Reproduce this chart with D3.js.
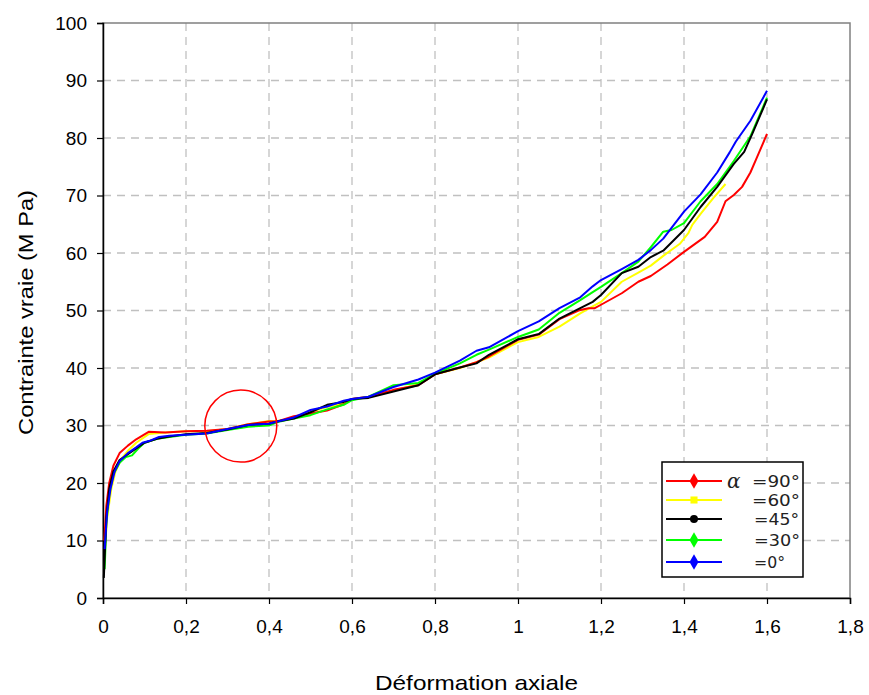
<!DOCTYPE html>
<html><head><meta charset="utf-8">
<script src="https://cdn.jsdelivr.net/npm/d3@7"></script>
<style>body{margin:0;background:#fff}svg{display:block;font-family:"Liberation Sans",Arial,sans-serif}</style>
</head><body><svg id="c" width="869" height="695"></svg>
<script>
// ---- data ----
const strain90 = [0.003,0.008,0.015,0.025,0.04,0.06,0.08,0.11,0.15,0.2,0.25,0.3,0.35,0.4,0.42,0.46,0.5,0.54,0.58,0.6,0.64,0.7,0.76,0.8,0.86,0.9,0.93,1.0,1.05,1.1,1.15,1.17,1.185,1.2,1.25,1.29,1.32,1.36,1.4,1.45,1.48,1.5,1.52,1.54,1.56,1.575,1.6];
const stress90 = [10,16,20,23,25.2,26.5,27.6,28.9,28.8,29.0,29.1,29.4,30.2,30.7,30.7,31.6,32.1,32.6,33.7,34.6,35.0,36.2,37.0,38.9,40.1,41.0,42.0,44.9,45.8,48.5,50.1,50.4,50.4,51.0,53.0,55.0,56.0,58.0,60.2,62.8,65.4,69.0,70.1,71.5,74.0,76.5,80.7];
const strain60 = [0.005,0.01,0.02,0.03,0.045,0.06,0.08,0.11,0.15,0.2,0.25,0.3,0.35,0.4,0.42,0.46,0.5,0.54,0.58,0.6,0.64,0.7,0.76,0.8,0.86,0.9,0.93,1.0,1.05,1.1,1.15,1.18,1.2,1.25,1.29,1.32,1.35,1.39,1.41,1.42,1.44,1.47,1.5];
const stress60 = [9,14,19,22,24.3,25.6,27,28.5,28.8,29.0,29.0,29.4,30.2,30.8,30.8,31.3,32.4,33.2,33.8,34.6,35.0,36.1,37.2,38.9,40.0,41.0,41.8,44.5,45.4,47.2,49.5,50.7,51.5,55.0,56.6,57.8,59.5,61.6,63.4,64.9,66.8,69.5,72.0];
const strain45 = [0.002,0.008,0.015,0.025,0.04,0.06,0.08,0.1,0.13,0.16,0.2,0.25,0.3,0.35,0.4,0.42,0.46,0.5,0.54,0.58,0.6,0.64,0.7,0.76,0.8,0.86,0.9,0.93,1.0,1.05,1.1,1.15,1.18,1.2,1.25,1.29,1.32,1.35,1.4,1.44,1.48,1.52,1.545,1.565,1.6];
const stress45 = [3.5,14,19,22,24,25.0,26.0,27,27.7,28.1,28.5,28.7,29.3,30.1,30.3,30.7,31.2,32.3,33.6,34.1,34.6,34.8,35.9,37.0,38.9,40.1,40.8,42.3,45.0,45.9,48.6,50.4,51.5,52.7,56.5,57.6,59.3,60.4,64.0,68.0,71.5,75.5,77.6,80.8,86.7];
const strain30 = [0.004,0.008,0.015,0.025,0.04,0.055,0.07,0.085,0.1,0.13,0.16,0.2,0.25,0.3,0.35,0.4,0.42,0.46,0.5,0.54,0.58,0.6,0.64,0.7,0.76,0.8,0.86,0.9,0.93,1.0,1.05,1.1,1.15,1.18,1.2,1.25,1.29,1.32,1.35,1.37,1.4,1.44,1.48,1.52,1.56,1.6];
const stress30 = [5,13,18,21.5,23.5,24.5,24.8,26,27,27.7,28.0,28.4,28.6,29.2,29.8,30.0,30.6,31.2,31.8,32.8,33.6,34.4,35.0,37.0,37.4,39.0,40.8,42.3,43.2,45.4,46.7,49.6,51.8,53.2,54.1,56.5,58.5,61.0,63.7,64.0,65.2,69.0,72.0,76.0,80.3,87.0];
const strain0 = [0.004,0.01,0.018,0.028,0.04,0.06,0.08,0.095,0.115,0.135,0.16,0.2,0.25,0.3,0.35,0.4,0.42,0.46,0.5,0.54,0.58,0.6,0.64,0.7,0.76,0.8,0.86,0.9,0.93,1.0,1.05,1.1,1.15,1.18,1.2,1.25,1.29,1.32,1.35,1.4,1.44,1.48,1.51,1.525,1.56,1.6];
const stress0 = [8.5,15,19,22,23.8,25.2,26.2,27.0,27.4,28.0,28.2,28.4,28.6,29.4,30.1,30.3,30.7,31.4,32.7,33.3,34.3,34.6,35.0,36.7,38.0,39.2,41.3,43.0,43.6,46.4,48.1,50.4,52.3,54.2,55.3,57.2,58.8,60.5,62.5,67.2,70.2,74.0,77.5,79.4,83.0,88.2];
const seriesNames = ["=90°","=60°","=45°","=30°","=0°"];
const seriesColors = ["#ff0000","#ffff00","#000000","#00ff00","#0000ff"];
const seriesMarkers = ["diamond","square","circle","diamond","diamond"];
const xTicks = [0,0.2,0.4,0.6,0.8,1,1.2,1.4,1.6,1.8];
const yTicks = [0,10,20,30,40,50,60,70,80,90,100];
const xTitle = "Déformation axiale";
const yTitle = "Contrainte vraie (M Pa)";
const circleCenter = [0.332, 29.9];

const series = [
  {x:strain90,y:stress90},{x:strain60,y:stress60},{x:strain45,y:stress45},{x:strain30,y:stress30},{x:strain0,y:stress0}
].map((s,i)=>({name:seriesNames[i],color:seriesColors[i],marker:seriesMarkers[i],pts:s.x.map((v,j)=>[v,s.y[j]])}));

// ---- layout ----
const L=103,R=850,T=23,B=598;
const svg=d3.select("#c");
const x=d3.scaleLinear().domain([0,1.8]).range([L,R]);
const y=d3.scaleLinear().domain([0,100]).range([B,T]);
const fmt=d=>String(d).replace(".",",");

// grid
const g=svg.append("g");
g.selectAll("line.gx").data(xTicks.filter(d=>d>0&&d<1.8)).join("line")
 .attr("x1",d=>x(d)).attr("x2",d=>x(d)).attr("y1",T).attr("y2",B)
 .attr("stroke","#c0c0c0").attr("stroke-width",1.3).attr("stroke-dasharray","8,6");
g.selectAll("line.gy").data(yTicks.filter(d=>d>0&&d<100)).join("line")
 .attr("x1",L).attr("x2",R).attr("y1",d=>y(d)).attr("y2",d=>y(d))
 .attr("stroke","#c0c0c0").attr("stroke-width",1.3).attr("stroke-dasharray","8,6");
// frame
svg.append("rect").attr("x",L).attr("y",T).attr("width",R-L).attr("height",B-T)
 .attr("fill","none").attr("stroke","#808080").attr("stroke-width",1.5);

// axes
const xa=svg.append("g").attr("transform",`translate(0,${B})`)
 .call(d3.axisBottom(x).tickValues(xTicks).tickFormat(fmt).tickSize(6).tickPadding(16));
const ya=svg.append("g").attr("transform",`translate(${L},0)`)
 .call(d3.axisLeft(y).tickValues(yTicks).tickSize(6).tickPadding(10));
[xa,ya].forEach(a=>{
  a.select(".domain").attr("stroke","#000").attr("stroke-width",1.5);
  a.selectAll(".tick line").attr("stroke","#000").attr("stroke-width",1.2);
  a.selectAll("text").attr("font-size",19).attr("fill","#000").attr("font-family","Liberation Sans, Arial, sans-serif");
});

// titles
svg.append("text").attr("x",x(0.9)).attr("y",690).attr("text-anchor","middle")
 .attr("font-size",21).attr("textLength",203).attr("lengthAdjust","spacingAndGlyphs").text(xTitle);
svg.append("text").attr("transform",`translate(33,${(T+B)/2+2}) rotate(-90)`).attr("text-anchor","middle")
 .attr("font-size",21).attr("textLength",245).attr("lengthAdjust","spacingAndGlyphs").text(yTitle);

// lines
const line=d3.line().x(d=>x(d[0])).y(d=>y(d[1]));
const order=[1,0,3,2,4];
svg.append("g").selectAll("path").data(order.map(i=>series[i])).join("path")
 .attr("d",d=>line(d.pts)).attr("fill","none").attr("stroke",d=>d.color)
 .attr("stroke-width",2).attr("stroke-linejoin","round");

// red circle
svg.append("circle").attr("cx",x(circleCenter[0])).attr("cy",y(circleCenter[1])).attr("r",36)
 .attr("fill","none").attr("stroke","#ff0000").attr("stroke-width",1.5);

// legend
const lg=svg.append("g");
lg.append("rect").attr("x",662).attr("y",462).attr("width",141).attr("height",115)
 .attr("fill","#fff").attr("stroke","#000").attr("stroke-width",1.5);
const ly=[481,500,519,540,562];
const lx=[752,752,754,754,754];
const lw=[48,48,45,46,31];
series.forEach((s,i)=>{
  const yy=ly[i];
  lg.append("line").attr("x1",666).attr("x2",722).attr("y1",yy).attr("y2",yy)
    .attr("stroke",s.color).attr("stroke-width",2);
  const sym=s.marker==="square"?d3.symbolSquare:(s.marker==="circle"?d3.symbolCircle:d3.symbolDiamond);
  lg.append("path").attr("d",d3.symbol().type(sym).size(s.marker==="diamond"?70:50)())
    .attr("transform",`translate(694,${yy})`).attr("fill",s.color);
  lg.append("text").attr("x",lx[i]).attr("y",yy).attr("dy","0.36em").attr("font-size",16)
    .attr("textLength",lw[i]).attr("lengthAdjust","spacingAndGlyphs")
    .attr("font-family","DejaVu Sans, sans-serif").attr("fill","#222").text(s.name);
});
lg.append("text").attr("x",727).attr("y",ly[0]).attr("dy","0.36em").attr("font-size",20)
  .attr("font-style","italic").attr("fill","#222").attr("font-family","DejaVu Serif, serif").text("α");
</script></body></html>
